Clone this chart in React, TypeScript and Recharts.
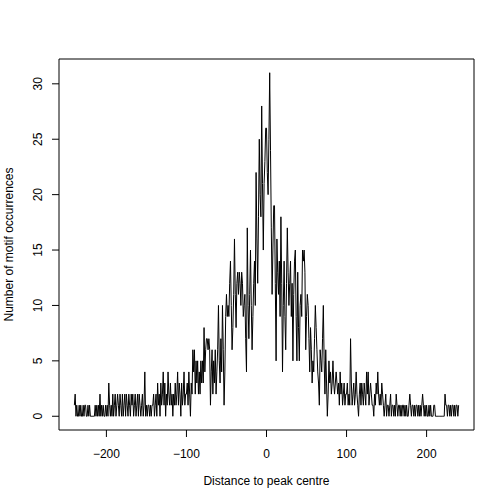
import { Line, LineChart, ReferenceArea, XAxis, YAxis } from "recharts";

// motif occurrences per position, distance -240 .. 240 (10 values per row)
const COUNTS = [
  1, 2, 0, 1, 0, 0, 1, 0, 1, 0, // -240
  0, 1, 0, 1, 1, 0, 0, 1, 0, 1, // -230
  0, 0, 0, 0, 0, 0, 1, 0, 1, 0, // -220
  1, 0, 2, 0, 1, 0, 1, 0, 0, 1, // -210
  0, 1, 0, 3, 1, 0, 1, 0, 2, 0, // -200
  1, 2, 0, 1, 2, 1, 0, 2, 1, 0, // -190
  2, 0, 1, 2, 0, 2, 1, 0, 2, 1, // -180
  0, 2, 1, 2, 0, 1, 2, 0, 1, 2, // -170
  0, 2, 1, 0, 1, 2, 0, 1, 4, 0, // -160
  1, 0, 1, 1, 0, 1, 0, 1, 1, 2, // -150
  0, 1, 2, 0, 3, 1, 2, 0, 3, 1, // -140
  2, 4, 1, 3, 0, 2, 1, 4, 2, 1, // -130
  3, 1, 2, 0, 2, 1, 3, 1, 2, 4, // -120
  1, 3, 2, 0, 3, 1, 2, 4, 1, 2, // -110
  2, 3, 1, 4, 2, 0, 3, 2, 6, 4, // -100
  6, 2, 5, 3, 5, 2, 4, 2, 5, 3, // -90
  5, 3, 8, 4, 6, 7, 7, 6, 7, 6, // -80
  1, 4, 6, 2, 5, 3, 6, 2, 4, 6, // -70
  10, 5, 3, 7, 4, 10, 6, 1, 4, 9, // -60
  11, 9, 10, 9, 12, 14, 10, 6, 8, 11, // -50
  16, 11, 8, 12, 13, 11, 13, 12, 10, 13, // -40
  12, 9, 10, 11, 7, 4, 17, 10, 7, 11, // -30
  15, 10, 6, 9, 12, 14, 10, 22, 16, 12, // -20
  18, 25, 20, 18, 28, 21, 15, 21, 23, 26, // -10
  26, 22, 20, 25, 31, 24, 17, 11, 15, 19, // 0
  19, 12, 5, 16, 13, 11, 14, 9, 18, 12, // 10
  4, 10, 14, 9, 6, 12, 17, 13, 10, 12, // 20
  14, 9, 12, 5, 11, 14, 15, 9, 5, 13, // 30
  8, 5, 10, 11, 9, 15, 14, 15, 13, 6, // 40
  9, 11, 10, 7, 4, 8, 6, 3, 5, 4, // 50
  7, 10, 8, 6, 4, 3, 1, 6, 5, 4, // 60
  7, 10, 5, 2, 6, 3, 0, 2, 5, 3, // 70
  4, 2, 3, 5, 3, 2, 3, 4, 3, 2, // 80
  3, 1, 4, 2, 3, 1, 2, 3, 1, 2, // 90
  2, 3, 1, 2, 1, 7, 3, 1, 2, 3, // 100
  1, 2, 4, 2, 1, 0, 2, 3, 1, 3, // 110
  2, 1, 3, 2, 1, 4, 2, 4, 1, 2, // 120
  3, 2, 1, 1, 0, 2, 1, 3, 2, 4, // 130
  2, 1, 2, 1, 3, 2, 1, 0, 1, 2, // 140
  0, 1, 1, 0, 1, 2, 0, 1, 1, 0, // 150
  1, 0, 2, 1, 0, 1, 1, 0, 1, 0, // 160
  1, 1, 0, 1, 0, 1, 0, 0, 1, 2, // 170
  1, 0, 1, 1, 0, 1, 0, 1, 1, 0, // 180
  1, 0, 1, 0, 1, 2, 1, 0, 1, 0, // 190
  1, 0, 0, 1, 0, 1, 0, 0, 0, 1, // 200
  1, 0, 0, 0, 0, 0, 0, 0, 0, 0, // 210
  0, 0, 0, 2, 1, 1, 0, 1, 1, 0, // 220
  1, 0, 1, 1, 0, 1, 0, 1, 1, 0, 1, // 230 .. 240
];

const START = -240;
const X_TICKS = [-200, -100, 0, 100, 200];
const Y_TICKS = [0, 5, 10, 15, 20, 25, 30];
const X_DOMAIN: [number, number] = [-259.2, 259.2];
const Y_DOMAIN: [number, number] = [-1.24, 32.24];

const FONT = "'Liberation Sans', Arial, Helvetica, sans-serif";

const data = COUNTS.map((count, i) => ({ distance: START + i, count }));

function YTick(props: any) {
  const { x, y, payload } = props;
  return (
    <text
      x={x}
      y={y}
      transform={`rotate(-90, ${x}, ${y})`}
      textAnchor="middle"
      dy="0.35em"
      fontSize={12}
      fontFamily={FONT}
      fill="#000"
    >
      {payload.value}
    </text>
  );
}

export default function App() {
  return (
    <div style={{ position: "absolute", left: 0, top: 0, background: "#fff" }}>
      <LineChart
        width={504}
        height={504}
        data={data}
        margin={{ top: 59, right: 30, bottom: 0, left: 0 }}
      >
        <XAxis
          dataKey="distance"
          type="number"
          domain={X_DOMAIN}
          allowDataOverflow
          ticks={X_TICKS}
          height={74}
          axisLine={false}
          tickSize={7}
          tickMargin={12}
          tickLine={{ stroke: "#000" }}
          tick={{ fill: "#000", fontSize: 12, fontFamily: FONT }}
          tickFormatter={(v: number) => String(v).replace("-", "\u2212")}
          label={(p: any) => {
            const vb = p.viewBox;
            return (
              <text
                x={vb.x + vb.width / 2}
                y={485}
                textAnchor="middle"
                fontSize={12}
                fontFamily={FONT}
                fill="#000"
              >
                Distance to peak centre
              </text>
            );
          }}
        />
        <YAxis
          type="number"
          domain={Y_DOMAIN}
          allowDataOverflow
          ticks={Y_TICKS}
          width={59}
          axisLine={false}
          tickSize={7}
          tickMargin={14}
          tickLine={{ stroke: "#000" }}
          tick={<YTick />}
          label={(p: any) => {
            const vb = p.viewBox;
            const cx = 8.5;
            const cy = vb.y + vb.height / 2;
            return (
              <text
                x={cx}
                y={cy}
                transform={`rotate(-90, ${cx}, ${cy})`}
                textAnchor="middle"
                dy="0.35em"
                fontSize={12}
                fontFamily={FONT}
                fill="#000"
              >
                Number of motif occurrences
              </text>
            );
          }}
        />
        <Line
          dataKey="count"
          type="linear"
          stroke="#000"
          strokeWidth={1}
          dot={false}
          activeDot={false}
          isAnimationActive={false}
        />
        <ReferenceArea
          x1={X_DOMAIN[0]}
          x2={X_DOMAIN[1]}
          y1={Y_DOMAIN[0]}
          y2={Y_DOMAIN[1]}
          fill="none"
          fillOpacity={0}
          stroke="#000"
          strokeWidth={1}
        />
      </LineChart>
    </div>
  );
}
